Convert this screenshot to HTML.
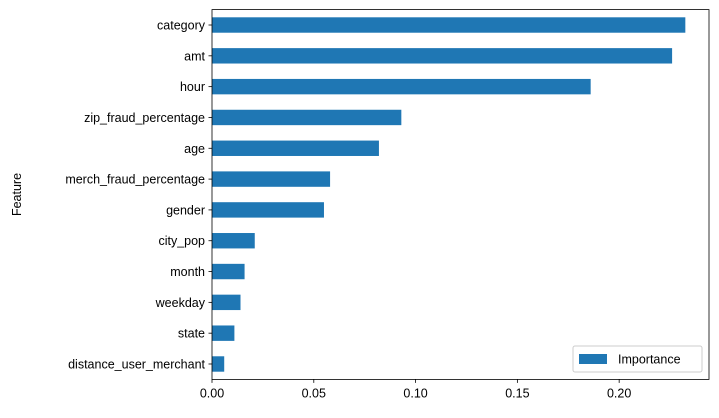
<!DOCTYPE html>
<html><head><meta charset="utf-8"><style>
body{margin:0;background:#fff;}
svg text{font-family:"Liberation Sans","DejaVu Sans",sans-serif;font-size:12.5px;fill:#000;}
</style></head><body>
<svg id="c" width="719" height="413" xmlns="http://www.w3.org/2000/svg"></svg>
<script>
const categories=["category","amt","hour","zip_fraud_percentage","age","merch_fraud_percentage","gender","city_pop","month","weekday","state","distance_user_merchant"];
const importance=[0.2325,0.226,0.186,0.093,0.082,0.058,0.055,0.021,0.016,0.014,0.011,0.006];
const xTicks=[0,0.05,0.1,0.15,0.2];
const xTickLabels=["0.00","0.05","0.10","0.15","0.20"];
const NS="http://www.w3.org/2000/svg";
const svg=document.getElementById('c');
const L=212,R=709,T=9.6,B=379.4;
const xMax=Math.max(...importance)*1.05;
const x=v=>L+v/xMax*(R-L);
const step=(B-T)/categories.length;
const y=i=>T+step*(i+0.5);
function mk(t,a){const e=document.createElementNS(NS,t);for(const k in a)e.setAttribute(k,a[k]);svg.appendChild(e);return e;}
categories.forEach((c,i)=>{
 const r=mk('rect',{x:x(0),y:y(i)-step/4,width:x(importance[i])-x(0),height:step/2,fill:'#1f77b4'});
 
 
 const tk=mk('line',{x1:L-3.5,x2:L,y1:y(i),y2:y(i),stroke:'#000','stroke-width':0.8});
 
 
 const t=mk('text',{x:L-7,y:y(i)+4.5,'text-anchor':'end'});t.textContent=c;
 
 
});
xTicks.forEach((v,i)=>{
 const tk=mk('line',{x1:x(v),x2:x(v),y1:B,y2:B+3.5,stroke:'#000','stroke-width':0.8});
 
 
 const t=mk('text',{x:x(v),y:B+18,'text-anchor':'middle'});t.textContent=xTickLabels[i];
 
 
});
const fr=mk('rect',{x:L,y:T,width:R-L,height:B-T,fill:'none',stroke:'#000','stroke-width':0.8});


const yt=mk('text',{x:21,y:(T+B)/2,'text-anchor':'middle',transform:`rotate(-90 21 ${(T+B)/2})`});yt.textContent='Feature';


const lg=mk('rect',{x:573,y:346,width:129,height:26,fill:'#fff',stroke:'#ccc','stroke-width':1,rx:2});


const ls=mk('rect',{x:579,y:354,width:28,height:10,fill:'#1f77b4'});


const lt=mk('text',{x:618,y:363.5});lt.textContent='Importance';


</script>
</body></html>
